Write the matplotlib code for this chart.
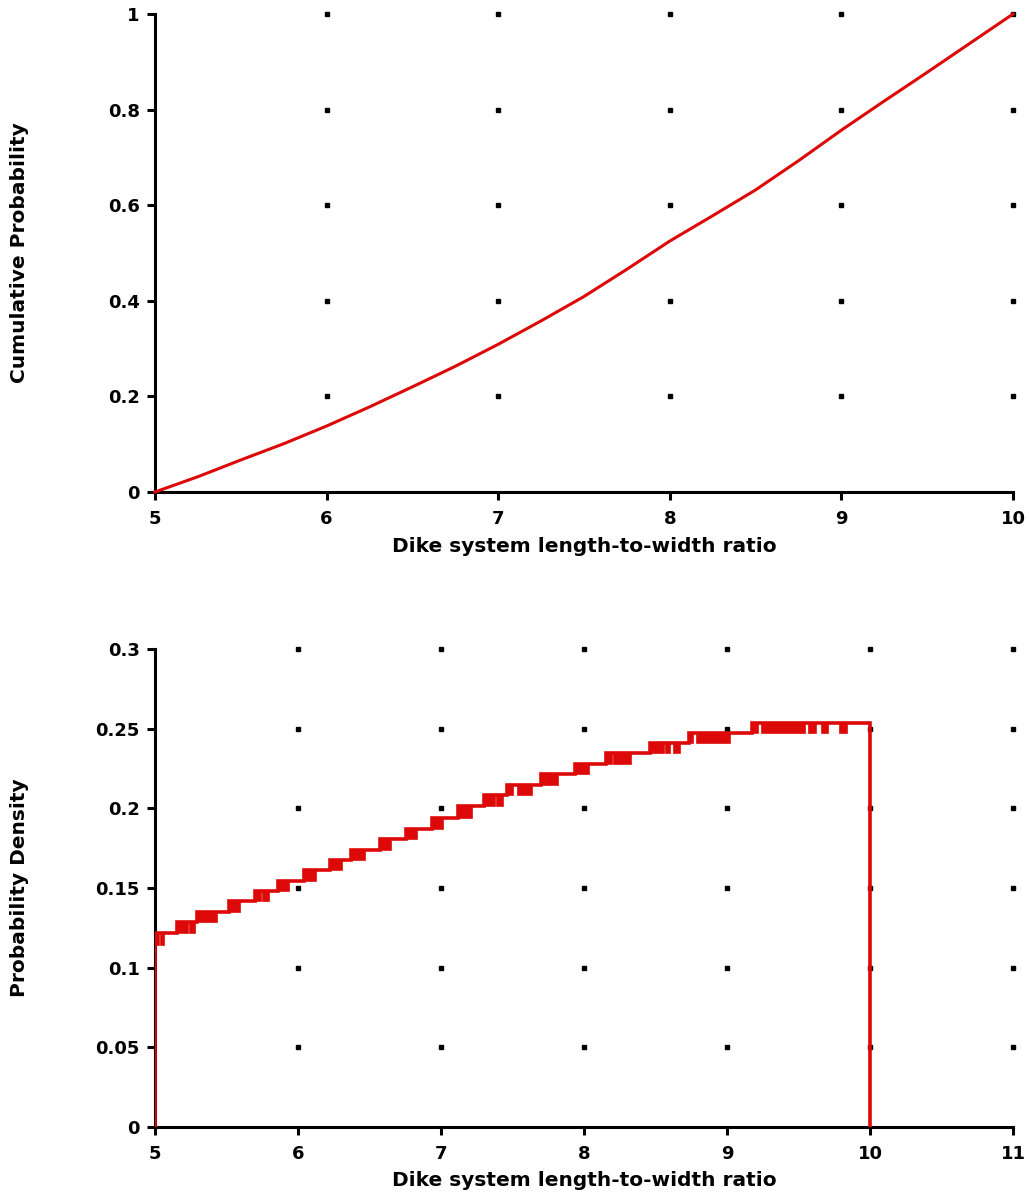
#!/usr/bin/env python3
import numpy as np
import matplotlib
matplotlib.use('Agg')
import matplotlib.pyplot as plt

# ---------------------------------------------------------#
# Data                              #
# ---------------------------------------------------------#
# cumulative probability (top panel)
cdf_x = [5.0, 5.25, 5.5, 5.75, 6.0, 6.25, 6.5, 6.75, 7.0, 7.25, 7.5,
         7.75, 8.0, 8.25, 8.5, 8.75, 9.0, 9.25, 9.5, 9.75, 10.0]
cdf_y = [0.0, 0.032, 0.067, 0.101, 0.138, 0.178, 0.220, 0.263, 0.309, 0.358, 0.409,
         0.466, 0.525, 0.578, 0.632, 0.693, 0.757, 0.818, 0.878, 0.939, 1.0]

# probability density (bottom panel), step function
pdf_edges  = [5.0, 5.152, 5.296, 5.520, 5.699, 5.862, 6.042, 6.224, 6.371, 6.573, 6.755,
              6.937, 7.121, 7.301, 7.459, 7.699, 7.937, 8.154, 8.462, 8.737, 9.177, 10.0]
pdf_levels = [0.1218, 0.1287, 0.135, 0.142, 0.148, 0.1545, 0.161, 0.1675, 0.174, 0.181,
              0.187, 0.194, 0.2015, 0.2084, 0.2147, 0.2216, 0.228, 0.2348, 0.241, 0.2473,
              0.2536]
pdf_floor  = 0.114   # lowest dip below the first level

# jitter blocks: where the density flickers between a level and the one below
jit_start = [5.007, 5.040, 5.152, 5.245, 5.296, 5.350, 5.520, 5.699, 5.755, 5.862,
             6.042, 6.224, 6.371, 6.573, 6.755, 6.937, 7.121, 7.301, 7.389, 7.459,
             7.538, 7.699, 7.734, 7.937, 8.154, 8.210, 8.280, 8.462, 8.573, 8.629,
             8.737, 8.790, 9.177, 9.245, 9.518, 9.573, 9.664, 9.790]
jit_end   = [5.026, 5.063, 5.233, 5.280, 5.343, 5.431, 5.594, 5.741, 5.797, 5.937,
             6.126, 6.308, 6.469, 6.650, 6.832, 7.014, 7.217, 7.378, 7.436, 7.506,
             7.636, 7.727, 7.818, 8.037, 8.196, 8.275, 8.329, 8.559, 8.601, 8.671,
             8.765, 9.021, 9.217, 9.511, 9.545, 9.622, 9.706, 9.839]
jit_step  = [0, 0, 1, 1, 2, 2, 3, 4, 4, 5,
             6, 7, 8, 9, 10, 11, 12, 13, 13, 14,
             14, 15, 15, 16, 17, 17, 17, 18, 18, 18,
             19, 19, 20, 20, 20, 20, 20, 20]

top_xticks = [5, 6, 7, 8, 9, 10]
top_yticks = [0, 0.2, 0.4, 0.6, 0.8, 1.0]
top_ylabels = ['0', '0.2', '0.4', '0.6', '0.8', '1']
bot_xticks = [5, 6, 7, 8, 9, 10, 11]
bot_yticks = [0, 0.05, 0.1, 0.15, 0.2, 0.25, 0.3]
bot_ylabels = ['0', '0.05', '0.1', '0.15', '0.2', '0.25', '0.3']

x_title  = 'Dike system length-to-width ratio'
y_title1 = 'Cumulative Probability'
y_title2 = 'Probability Density'

# ---------------------------------------------------------#
# Style                                                    #
# ---------------------------------------------------------#
red   = '#dd0808'
W, H  = 1029, 1198
plt.rcParams['font.family'] = ['DejaVu Sans']
plt.rcParams['font.weight'] = 'bold'
tick_fs  = 13
label_fs = 14.5


def style_axes(ax, xt, yt, ylab):
    for s in ['top', 'right']:
        ax.spines[s].set_visible(False)
    for s in ['left', 'bottom']:
        ax.spines[s].set_linewidth(2.2)
    ax.set_xticks(xt)
    ax.set_xticklabels([str(v) for v in xt], fontsize=tick_fs, fontweight='bold')
    ax.set_yticks(yt)
    ax.set_yticklabels(ylab, fontsize=tick_fs, fontweight='bold')
    ax.tick_params(axis='both', direction='out', length=6, width=2.2)
    ax.tick_params(axis='x', pad=7)
    ax.tick_params(axis='y', pad=5)
    # dotted grid: small squares at tick crossings
    gx, gy = np.meshgrid(xt[1:], yt[1:])
    ax.plot(gx.ravel(), gy.ravel(), ls='none', marker='s', ms=2.2,
            color='black', clip_on=False, zorder=1)


fig = plt.figure(figsize=(W / 100, H / 100), dpi=100)

# ---------------------------------------------------------#
# Top: cumulative probability                              #
# ---------------------------------------------------------#
ax1 = fig.add_axes([155 / W, 1 - 492 / H, 858 / W, 478 / H])
ax1.plot(cdf_x, cdf_y, color=red, lw=2.2, zorder=3, clip_on=False)
ax1.set_xlim(5, 10)
ax1.set_ylim(0, 1)
style_axes(ax1, top_xticks, top_yticks, top_ylabels)

# ---------------------------------------------------------#
# Bottom: probability density                              #
# ---------------------------------------------------------#
ax2 = fig.add_axes([155 / W, 1 - 1127 / H, 858 / W, 478 / H])
ax2.stairs(pdf_levels, pdf_edges, baseline=0, color=red, lw=2.6, zorder=3)
lower = [pdf_floor if i == 0 else pdf_levels[i - 1] for i in jit_step]
upper = [pdf_levels[i] for i in jit_step]
ax2.bar(jit_start, np.subtract(upper, lower), width=np.subtract(jit_end, jit_start),
        bottom=lower, align='edge', color=red, edgecolor=red, lw=1.2, zorder=3)
ax2.set_xlim(5, 11)
ax2.set_ylim(0, 0.3)
style_axes(ax2, bot_xticks, bot_yticks, bot_ylabels)

# ---------------------------------------------------------#
# Axis titles                                              #
# ---------------------------------------------------------#
fig.text(584 / W, 1 - 546 / H, x_title, ha='center', va='center',
         fontsize=label_fs, fontweight='bold')
fig.text(584 / W, 1 - 1181 / H, x_title, ha='center', va='center',
         fontsize=label_fs, fontweight='bold')
fig.text(20 / W, 1 - 253 / H, y_title1, ha='center', va='center', rotation=90,
         fontsize=label_fs, fontweight='bold')
fig.text(20 / W, 1 - 888 / H, y_title2, ha='center', va='center', rotation=90,
         fontsize=label_fs, fontweight='bold')

fig.savefig('out.png', dpi=100)
